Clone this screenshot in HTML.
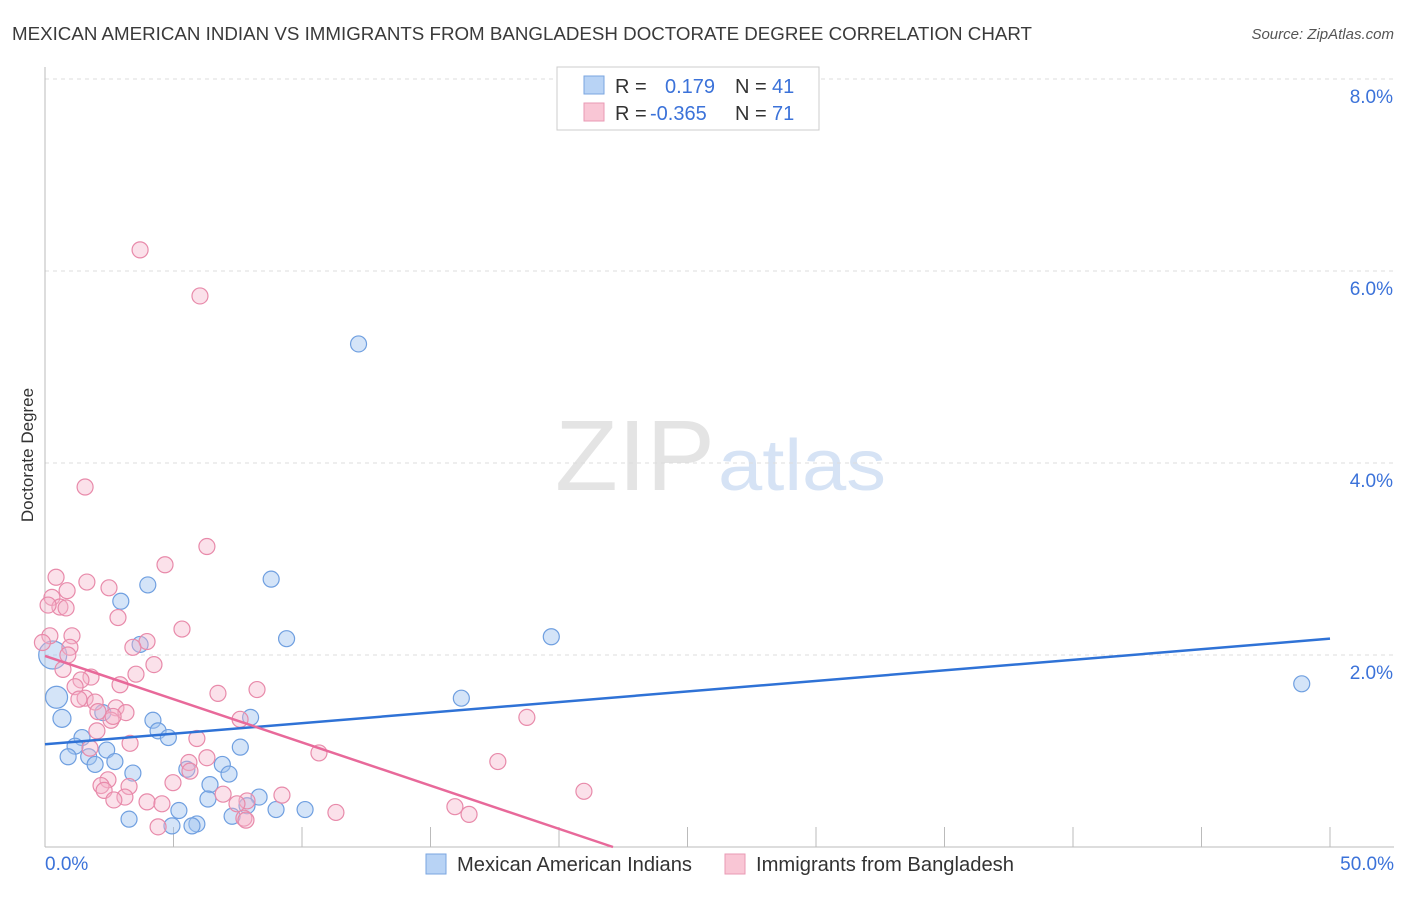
<!DOCTYPE html>
<html><head><meta charset="utf-8"><style>
body{margin:0;background:#fff;font-family:"Liberation Sans",sans-serif}
svg text{font-family:"Liberation Sans",sans-serif}
</style></head><body>
<svg id="chart" width="1406" height="892" xmlns="http://www.w3.org/2000/svg">
<text x="12" y="40" font-size="18.5" fill="#3a3a3a" textLength="1020" lengthAdjust="spacingAndGlyphs">MEXICAN AMERICAN INDIAN VS IMMIGRANTS FROM BANGLADESH DOCTORATE DEGREE CORRELATION CHART</text>
<text x="1394" y="39" font-size="15" fill="#555" text-anchor="end" font-style="italic">Source: ZipAtlas.com</text>
<text transform="translate(33,455) rotate(-90)" font-size="17" fill="#333" text-anchor="middle">Doctorate Degree</text>
<g>
<text x="555" y="490" font-size="100" fill="#e4e4e4" font-family="Liberation Serif,serif" textLength="160" lengthAdjust="spacingAndGlyphs">ZIP</text>
<text x="718" y="490" font-size="72" fill="#d6e3f5" textLength="168" lengthAdjust="spacingAndGlyphs">atlas</text>
</g>
<g id="grid"></g><g id="marks"></g><g id="trends"></g>
<g>
<rect x="557" y="67" width="262" height="63" fill="#fff" stroke="#ccc"/>
<rect x="584" y="76" width="20" height="18" fill="#b8d3f5" stroke="#7aa6e0"/>
<rect x="584" y="103" width="20" height="18" fill="#f9c6d5" stroke="#e99ab4"/>
<text x="615" y="93" font-size="20" fill="#333">R = </text><text x="665" y="93" font-size="20" fill="#3b72d9">0.179</text>
<text x="735" y="93" font-size="20" fill="#333">N = </text><text x="772" y="93" font-size="20" fill="#3b72d9">41</text>
<text x="615" y="120" font-size="20" fill="#333">R = </text><text x="650" y="120" font-size="20" fill="#3b72d9">-0.365</text>
<text x="735" y="120" font-size="20" fill="#333">N = </text><text x="772" y="120" font-size="20" fill="#3b72d9">71</text>
</g>
<g>
<rect x="426" y="854" width="20" height="20" fill="#b8d3f5" stroke="#7aa6e0"/>
<text x="457" y="871" font-size="20" fill="#333" textLength="235" lengthAdjust="spacingAndGlyphs">Mexican American Indians</text>
<rect x="725" y="854" width="20" height="20" fill="#f9c6d5" stroke="#e99ab4"/>
<text x="756" y="871" font-size="20" fill="#333" textLength="258" lengthAdjust="spacingAndGlyphs">Immigrants from Bangladesh</text>
</g>
</svg>
<script>
const blueX=[12.2,8.8,4.0,2.95,9.4,19.7,3.7,0.3,0.45,16.2,48.9,0.66,8.0,4.2,2.25,4.4,4.8,1.44,1.17,7.6,2.4,0.9,1.7,2.72,1.95,6.9,5.52,7.16,3.42,6.42,6.34,8.33,7.86,8.99,10.12,5.21,3.27,7.28,4.94,5.91,5.72];
const blueY=[5.24,2.79,2.73,2.56,2.17,2.19,2.11,2.0,1.56,1.55,1.7,1.34,1.35,1.32,1.4,1.21,1.14,1.14,1.05,1.04,1.01,0.94,0.94,0.89,0.86,0.86,0.81,0.76,0.77,0.65,0.5,0.52,0.43,0.39,0.39,0.38,0.29,0.32,0.22,0.24,0.22];
const blueR=[8,8,8,8,8,8,8,14,11,8,8,9,8,8,8,8,8,8,8,8,8,8,8,8,8,8,8,8,8,8,8,8,8,8,8,8,8,8,8,8,8];
const pinkX=[3.7,6.03,1.56,6.3,4.67,0.43,1.63,2.49,0.86,0.27,0.58,0.12,0.82,2.84,5.33,1.05,0.19,3.97,3.42,0.97,-0.1,4.24,3.54,0.7,1.79,1.4,2.92,6.73,8.25,1.17,1.56,1.95,1.32,2.06,2.76,3.15,2.57,18.75,7.59,2.02,3.31,5.91,10.66,6.3,17.62,5.6,5.64,2.45,2.18,4.98,3.27,2.3,6.93,9.22,3.11,2.68,20.97,7.86,3.97,4.55,7.47,15.95,11.32,16.5,7.74,7.82,4.4,0.89,1.75,2.65];
const pinkY=[6.22,5.74,3.75,3.13,2.94,2.81,2.76,2.7,2.67,2.6,2.5,2.52,2.49,2.39,2.27,2.2,2.2,2.14,2.08,2.08,2.13,1.9,1.8,1.85,1.77,1.74,1.69,1.6,1.64,1.67,1.55,1.51,1.54,1.41,1.45,1.4,1.32,1.35,1.33,1.21,1.08,1.13,0.98,0.93,0.89,0.88,0.79,0.7,0.64,0.67,0.63,0.59,0.55,0.54,0.52,0.49,0.58,0.48,0.47,0.45,0.45,0.42,0.36,0.34,0.3,0.28,0.21,2.0,1.03,1.36];
const trendBlue=[0,1.07,50,2.17];
const trendPink=[0,1.99,22.1,0.0];
const yTicks=[2,4,6,8];
const xTickLabels=["0.0%","50.0%"];
const NS="http://www.w3.org/2000/svg";
const X0=45,X1=1330,Y0=847,PXY=96;
const sx=v=>X0+(v/50)*(X1-X0), sy=v=>Y0-v*PXY;
function mk(t,a,p){const e=document.createElementNS(NS,t);for(const k in a)e.setAttribute(k,a[k]);p.appendChild(e);return e;}
const grid=document.getElementById('grid');
yTicks.forEach(v=>{
 const l=mk('line',{x1:X0,x2:1394,y1:sy(v),y2:sy(v),stroke:'#ddd','stroke-dasharray':'4,4'},grid);
 
 
 const t=mk('text',{x:1393,y:sy(v)+24,'font-size':19,fill:'#3b72d9','text-anchor':'end'},grid);
 t.textContent=v.toFixed(1)+'%';
 
 
});
const ax=mk('line',{x1:X0,x2:X0,y1:67,y2:Y0,stroke:'#bbb'},grid);


const xa=mk('line',{x1:X0,x2:1394,y1:Y0,y2:Y0,stroke:'#bbb'},grid);


for(let i=0;i<=10;i++){const t=mk('line',{x1:sx(i*5),x2:sx(i*5),y1:Y0,y2:Y0-20,stroke:'#bbb'},grid);
 
 }
[[0,'start',45],[50,'end',1394]].forEach((d,i)=>{const t=mk('text',{x:d[2],y:870,'font-size':19,fill:'#3b72d9','text-anchor':d[1]},grid);t.textContent=xTickLabels[i];
 
 });
const marks=document.getElementById('marks');
blueX.forEach((x,i)=>{const c=mk('circle',{cx:sx(x),cy:sy(blueY[i]),r:blueR[i],fill:'rgba(160,196,240,0.45)',stroke:'#6f9fe0','stroke-width':1.2},marks);
 
 });
pinkX.forEach((x,i)=>{const c=mk('circle',{cx:sx(x),cy:sy(pinkY[i]),r:8,fill:'rgba(245,180,202,0.4)',stroke:'#e88aaa','stroke-width':1.2},marks);
 
 });
const tr=document.getElementById('trends');
const lb=mk('line',{x1:sx(trendBlue[0]),y1:sy(trendBlue[1]),x2:sx(trendBlue[2]),y2:sy(trendBlue[3]),stroke:'#2f72d6','stroke-width':2.5},tr);


const lp=mk('line',{x1:sx(trendPink[0]),y1:sy(trendPink[1]),x2:sx(trendPink[2]),y2:sy(trendPink[3]),stroke:'#e8699a','stroke-width':2.5},tr);


</script>
</body></html>
